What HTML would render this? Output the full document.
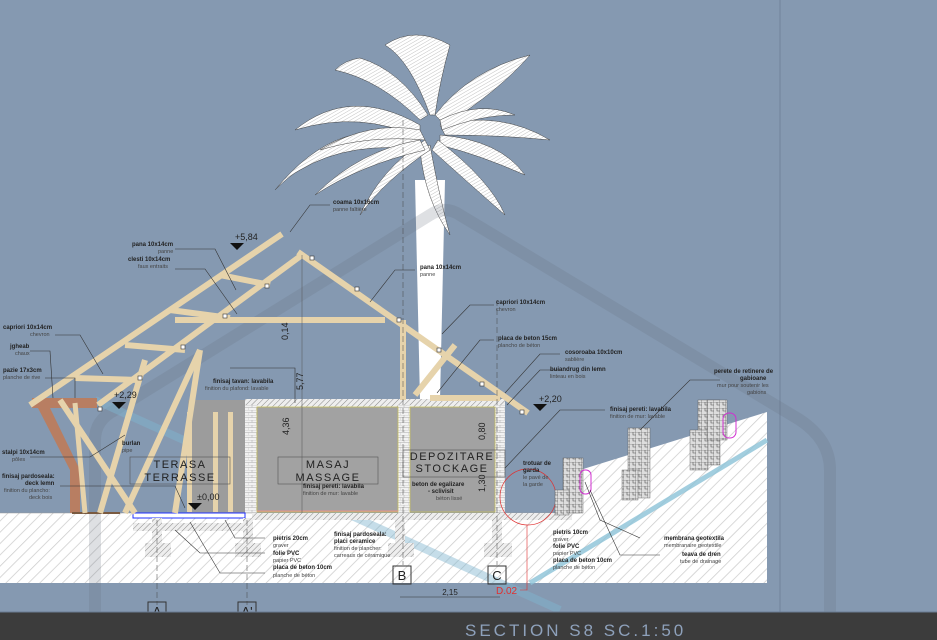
<!DOCTYPE html>
<html><head><meta charset="utf-8"><style>
html,body{margin:0;padding:0;width:937px;height:640px;overflow:hidden;background:#8599b1;}
svg{display:block}
text{font-family:"Liberation Sans",sans-serif;}
.b{font-size:6px;font-weight:bold;fill:#222}
.s{font-size:5.5px;fill:#444}
.w{stroke:#e6d3ab;stroke-width:6;stroke-linecap:butt}
.ld{stroke:#333;stroke-width:0.6;fill:none}
</style></head><body>
<svg width="937" height="640" viewBox="0 0 937 640" xmlns="http://www.w3.org/2000/svg">
<defs>
<pattern id="h" width="8" height="8" patternUnits="userSpaceOnUse" patternTransform="rotate(45)">
<rect width="8" height="8" fill="#fff"/><line x1="0" y1="0" x2="0" y2="8" stroke="#ccc" stroke-width="1.5"/></pattern>
<pattern id="hh" width="4" height="4" patternUnits="userSpaceOnUse" patternTransform="rotate(45)">
<rect width="4" height="4" fill="#eee"/><line x1="0" y1="0" x2="0" y2="4" stroke="#888" stroke-width="1"/></pattern>
<pattern id="br" width="8" height="5" patternUnits="userSpaceOnUse">
<rect width="8" height="5" fill="#f2f2f2"/><path d="M0 0H8M0 2.5H8M4 0V2.5M0 2.5V5" stroke="#aaa" stroke-width="0.5"/></pattern>
<pattern id="gb" width="6" height="6" patternUnits="userSpaceOnUse">
<rect width="6" height="6" fill="#ddd"/><path d="M0 0H6V6M3 0V3H6" stroke="#555" stroke-width="0.6" fill="none"/></pattern>
<pattern id="lf" width="3" height="3" patternUnits="userSpaceOnUse" patternTransform="rotate(60)">
<rect width="3" height="3" fill="#fff"/><line x1="0" y1="0" x2="0" y2="3" stroke="#999" stroke-width="0.6"/></pattern>
</defs>
<rect width="937" height="640" fill="#8599b1"/>
<line x1="780" y1="0" x2="780" y2="612" stroke="#71829a" stroke-width="1"/>
<!-- ground -->
<polygon points="0,513 580,513 580,470 767,412 767,583 0,583" fill="url(#h)"/>
<line x1="0" y1="513" x2="580" y2="513" stroke="#999" stroke-width="0.5"/>
<line x1="530" y1="583" x2="767" y2="440" stroke="#8cc3d8" stroke-width="5" opacity="0.8"/>
<!-- palm -->
<path d="M415 180 L445 180 L440 400 L420 400 Z" fill="#fff"/>
<g fill="url(#lf)" stroke="#444" stroke-width="0.5">
<path d="M420 140 Q340 110 275 190 Q290 175 300 170 Q350 140 425 150 Z"/>
<path d="M420 125 Q350 85 295 130 Q360 110 420 138Z"/>
<path d="M420 120 Q380 80 335 70 Q345 60 360 58 Q400 70 428 115Z"/>
<path d="M430 115 Q410 60 385 45 Q415 25 450 45 Q440 80 435 115Z"/>
<path d="M435 115 Q470 70 530 55 Q500 90 445 125Z"/>
<path d="M440 125 Q500 110 550 140 Q500 135 445 135Z"/>
<path d="M440 135 Q500 140 525 175 Q480 155 440 145Z"/>
<path d="M438 140 Q490 180 505 215 Q465 180 432 150Z"/>
<path d="M430 145 Q440 200 450 235 Q425 200 420 150Z"/>
<path d="M425 140 Q380 170 360 215 Q385 180 430 150Z"/>
<path d="M420 140 Q360 150 315 195 Q360 165 425 150Z"/>
<path d="M420 130 Q370 120 320 150 Q370 135 425 140Z"/>
<path d="M440 120 Q480 100 515 115 Q480 115 442 130Z"/>
</g>
<!-- big faint outline -->
<path d="M95 612 V440 Q95 420 115 410 L430 215 Q445 205 460 215 L800 420 Q830 440 830 470 V612" fill="none" stroke="#6b7480" stroke-width="12" opacity="0.22"/>
<line x1="95" y1="400" x2="560" y2="610" stroke="#7fb6d0" stroke-width="8" opacity="0.45"/>
<!-- terrace grey wall -->
<rect x="188" y="400" width="60" height="113" fill="#9c9c9c"/>
<g fill="#e6d3ab"><rect x="187" y="412" width="5" height="100"/><rect x="213" y="412" width="5" height="100"/><rect x="228" y="412" width="5" height="100"/></g>
<!-- rooms -->
<rect x="245" y="399" width="260" height="10" fill="url(#hh)"/>
<rect x="245" y="405" width="12" height="108" fill="url(#br)"/>
<rect x="398" y="405" width="12" height="108" fill="url(#br)"/>
<rect x="495" y="405" width="10" height="108" fill="url(#br)"/>
<rect x="257" y="407" width="141" height="105" fill="#a2a2a2" stroke="#c8c060" stroke-width="0.8"/>
<rect x="410" y="407" width="85" height="105" fill="#a2a2a2" stroke="#c8c060" stroke-width="0.8"/>
<line x1="257" y1="511" x2="398" y2="511" stroke="#e89090" stroke-width="1"/>
<rect x="133" y="513" width="112" height="5" fill="#fff" stroke="#2030ff" stroke-width="1"/>
<rect x="133" y="523" width="112" height="8" fill="url(#hh)"/>
<rect x="252" y="513" width="320" height="7" fill="url(#hh)"/>
<g fill="url(#hh)"><rect x="145" y="543" width="26" height="14"/><rect x="235" y="543" width="26" height="14"/><rect x="388" y="543" width="26" height="14"/><rect x="484" y="543" width="28" height="14"/>
<rect x="152" y="518" width="10" height="25"/><rect x="243" y="518" width="10" height="25"/><rect x="395" y="518" width="10" height="25"/><rect x="492" y="518" width="10" height="25"/></g>
<!-- porch -->
<rect x="32" y="398" width="65" height="10" fill="#b87e62"/>
<path d="M38 408 L70 470 L70 513 L80 513 L80 470 L50 408Z" fill="#b87e62"/>
<line x1="72" y1="513" x2="120" y2="513" stroke="#7a5a40" stroke-width="2"/>
<g class="w">
<line x1="282" y1="234" x2="30" y2="405"/>
<line x1="302" y1="255" x2="98" y2="405"/>
<line x1="298" y1="252" x2="528" y2="413"/>
<line x1="175" y1="320" x2="385" y2="320"/>
<line x1="220" y1="275" x2="270" y2="285"/>
<line x1="170" y1="310" x2="230" y2="318"/>
<line x1="125" y1="345" x2="185" y2="350"/>
<line x1="75" y1="378" x2="140" y2="380"/>
<line x1="200" y1="350" x2="175" y2="513"/>
<line x1="145" y1="360" x2="100" y2="513"/>
<line x1="60" y1="400" x2="135" y2="513"/>
<line x1="200" y1="350" x2="125" y2="513"/>
<line x1="403" y1="320" x2="403" y2="400"/>
<line x1="415" y1="395" x2="455" y2="345"/>
<line x1="430" y1="398" x2="500" y2="398"/>
</g>
<line x1="75" y1="403" x2="85" y2="513" stroke="#e6d3ab" stroke-width="5"/>
<g fill="#fff" stroke="#333" stroke-width="0.6">
<rect x="310" y="256" width="4" height="4"/><rect x="265" y="284" width="4" height="4"/><rect x="223" y="314" width="4" height="4"/><rect x="181" y="345" width="4" height="4"/><rect x="138" y="376" width="4" height="4"/><rect x="98" y="407" width="4" height="4"/>
<rect x="355" y="287" width="4" height="4"/><rect x="397" y="318" width="4" height="4"/><rect x="437" y="348" width="4" height="4"/><rect x="480" y="382" width="4" height="4"/><rect x="520" y="410" width="4" height="4"/>
</g>
<g stroke="#444" stroke-width="0.5" stroke-dasharray="6,3"><line x1="403" y1="120" x2="403" y2="565"/><line x1="497" y1="300" x2="497" y2="565"/><line x1="157" y1="520" x2="157" y2="605"/><line x1="247" y1="520" x2="247" y2="605"/></g>
<line x1="302" y1="255" x2="302" y2="513" stroke="#555" stroke-width="0.5"/>
<g fill="none" stroke="#333" stroke-width="1"><rect x="393" y="566" width="18" height="18"/><rect x="488" y="566" width="18" height="18"/><rect x="148" y="602" width="18" height="14"/><rect x="238" y="602" width="18" height="14"/></g>
<g font-size="13" fill="#222" text-anchor="middle"><text x="402" y="580">B</text><text x="497" y="580">C</text><text x="157" y="616">A</text><text x="247" y="616">A'</text></g>
<line x1="400" y1="597" x2="500" y2="597" stroke="#333" stroke-width="0.5"/>
<text x="450" y="595" font-size="8" text-anchor="middle" fill="#222">2,15</text>
<circle cx="528" cy="497" r="28" fill="none" stroke="#e03030" stroke-width="0.7"/>
<path d="M527 525 V590 H520" fill="none" stroke="#e03030" stroke-width="0.6"/>
<text x="496" y="594" font-size="10" fill="#e03030">D.02</text>
<g fill="url(#gb)" stroke="#555" stroke-width="0.4">
<rect x="563" y="458" width="20" height="55"/><rect x="555" y="490" width="14" height="25"/>
<rect x="628" y="428" width="22" height="70"/><rect x="622" y="470" width="16" height="30"/>
<rect x="698" y="400" width="22" height="65"/><rect x="690" y="430" width="18" height="40"/><rect x="707" y="400" width="20" height="40"/>
</g>
<g fill="none" stroke="#d030d0" stroke-width="1"><rect x="580" y="470" width="11" height="24" rx="5"/><rect x="723" y="413" width="13" height="25" rx="6"/></g>
<g fill="#111"><path d="M230 243 l14 0 l-7 7z"/><path d="M112 402 l14 0 l-7 7z"/><path d="M188 503 l14 0 l-7 7z"/><path d="M533 404 l14 0 l-7 7z"/></g>
<g font-size="9" fill="#222"><text x="235" y="240">+5,84</text><text x="114" y="398">+2,29</text><text x="197" y="500">±0,00</text><text x="539" y="402">+2,20</text></g>
<g font-size="9" fill="#222"><text transform="translate(288,340) rotate(-90)">0,14</text><text transform="translate(303,390) rotate(-90)">5,77</text><text transform="translate(289,435) rotate(-90)">4,36</text><text transform="translate(485,440) rotate(-90)">0,80</text><text transform="translate(485,492) rotate(-90)">1,30</text></g>
<g fill="none" stroke="#555" stroke-width="0.6"><rect x="130" y="457" width="100" height="27"/><rect x="278" y="457" width="100" height="27"/><rect x="403" y="450" width="102" height="27"/></g>
<g font-size="11" fill="#222" text-anchor="middle" letter-spacing="1.5"><text x="180" y="468">TERASA</text><text x="180" y="481">TERRASSE</text><text x="328" y="468">MASAJ</text><text x="328" y="481">MASSAGE</text><text x="452" y="460">DEPOZITARE</text><text x="452" y="472">STOCKAGE</text></g>
<g class="ld">
<path d="M330 205 L310 205 L290 232"/><path d="M175 249 L215 249 L236 290"/><path d="M175 269 L205 269 L237 314"/>
<path d="M415 270 L395 270 L370 302"/><path d="M494 305 L470 305 L442 334"/><path d="M494 340 L480 340 L437 393"/>
<path d="M560 354 L540 354 L505 393"/><path d="M560 370 L540 370 L507 405"/><path d="M605 410 L560 410 L505 468"/>
<path d="M55 335 L80 335 L103 374"/><path d="M30 351 L50 351 L53 398"/><path d="M45 378 L75 378 L75 398"/>
<path d="M30 457 L90 457 L125 435"/><path d="M60 486 L175 486 L185 508"/><path d="M230 368 L295 368 L295 403"/>
<path d="M265 538 L235 538 L225 520"/><path d="M265 553 L200 553 L175 530"/><path d="M265 573 L220 573 L190 522"/>
<path d="M720 380 L690 380 L640 430"/><path d="M640 538 L600 520 L585 482"/><path d="M660 555 L620 555 L590 490"/>
</g>
<text class="b" x="333" y="204">coama 10x16cm</text><text class="s" x="333" y="211">panne faîtière</text>
<text class="b" x="132" y="246">pana 10x14cm</text><text class="s" x="158" y="253">panne</text>
<text class="b" x="128" y="261">clesti 10x14cm</text><text class="s" x="138" y="268">faux entraits</text>
<text class="b" x="420" y="269">pana 10x14cm</text><text class="s" x="420" y="276">panne</text>
<text class="b" x="496" y="304">capriori 10x14cm</text><text class="s" x="496" y="311">chevron</text>
<text class="b" x="498" y="340">placa de beton 15cm</text><text class="s" x="498" y="347">plancho de béton</text>
<text class="b" x="565" y="354">cosoroaba 10x10cm</text><text class="s" x="565" y="361">sablière</text>
<text class="b" x="550" y="371">buiandrug din lemn</text><text class="s" x="550" y="378">linteau en bois</text>
<text class="b" x="610" y="411">finisaj pereti: lavabila</text><text class="s" x="610" y="418">finition de mur: lavable</text>
<text class="b" x="714" y="373">perete de retinere de</text><text class="b" x="740" y="380">gabioane</text><text class="s" x="717" y="387">mur pour soutenir les</text><text class="s" x="747" y="394">gabions</text>
<text class="b" x="3" y="329">capriori 10x14cm</text><text class="s" x="30" y="336">chevron</text>
<text class="b" x="10" y="348">jgheab</text><text class="s" x="15" y="355">chaux</text>
<text class="b" x="3" y="372">pazie 17x3cm</text><text class="s" x="3" y="379">planche de rive</text>
<text class="b" x="213" y="383">finisaj tavan: lavabila</text><text class="s" x="205" y="390">finition du plafond: lavable</text>
<text class="b" x="2" y="454">stalpi 10x14cm</text><text class="s" x="12" y="461">pôles</text>
<text class="b" x="122" y="445">burlan</text><text class="s" x="122" y="452">pipe</text>
<text class="b" x="2" y="478">finisaj pardoseala:</text><text class="b" x="25" y="485">deck lemn</text><text class="s" x="4" y="492">finition du plancho:</text><text class="s" x="29" y="499">deck bois</text>
<text class="b" x="303" y="488">finisaj pereti: lavabila</text><text class="s" x="303" y="495">finition de mur: lavable</text>
<text class="b" x="412" y="486">beton de egalizare</text><text class="b" x="428" y="493">- sclivisit</text><text class="s" x="436" y="500">béton lissé</text>
<text class="b" x="523" y="465">trotuar de</text><text class="b" x="523" y="472">garda</text><text class="s" x="523" y="479">le pavé de</text><text class="s" x="523" y="486">la garde</text>
<text class="b" x="273" y="540">pietris 20cm</text><text class="s" x="273" y="547">graver</text>
<text class="b" x="273" y="555">folie PVC</text><text class="s" x="273" y="562">papier PVC</text>
<text class="b" x="273" y="569">placa de beton 10cm</text><text class="s" x="273" y="577">planche de béton</text>
<text class="b" x="334" y="536">finisaj pardoseala:</text><text class="b" x="334" y="543">placi ceramice</text><text class="s" x="334" y="550">finition de plancher:</text><text class="s" x="334" y="557">carreaux de céramique</text>
<text class="b" x="553" y="534">pietris 10cm</text><text class="s" x="553" y="541">graver</text>
<text class="b" x="553" y="548">folie PVC</text><text class="s" x="553" y="555">papier PVC</text>
<text class="b" x="553" y="562">placa de beton 10cm</text><text class="s" x="553" y="569">planche de béton</text>
<text class="b" x="664" y="540">membrana geotextila</text><text class="s" x="664" y="547">membranaire geotextile</text>
<text class="b" x="682" y="556">teava de dren</text><text class="s" x="680" y="563">tube de drainage</text>
<rect x="0" y="612" width="937" height="28" fill="#3c3c3c"/>
<line x1="0" y1="612" x2="937" y2="612" stroke="#6a7b92" stroke-width="1"/>
<text x="465" y="636" font-size="17" fill="#8ea1bb" letter-spacing="3">SECTION S8  SC.1:50</text>
</svg>
</body></html>
